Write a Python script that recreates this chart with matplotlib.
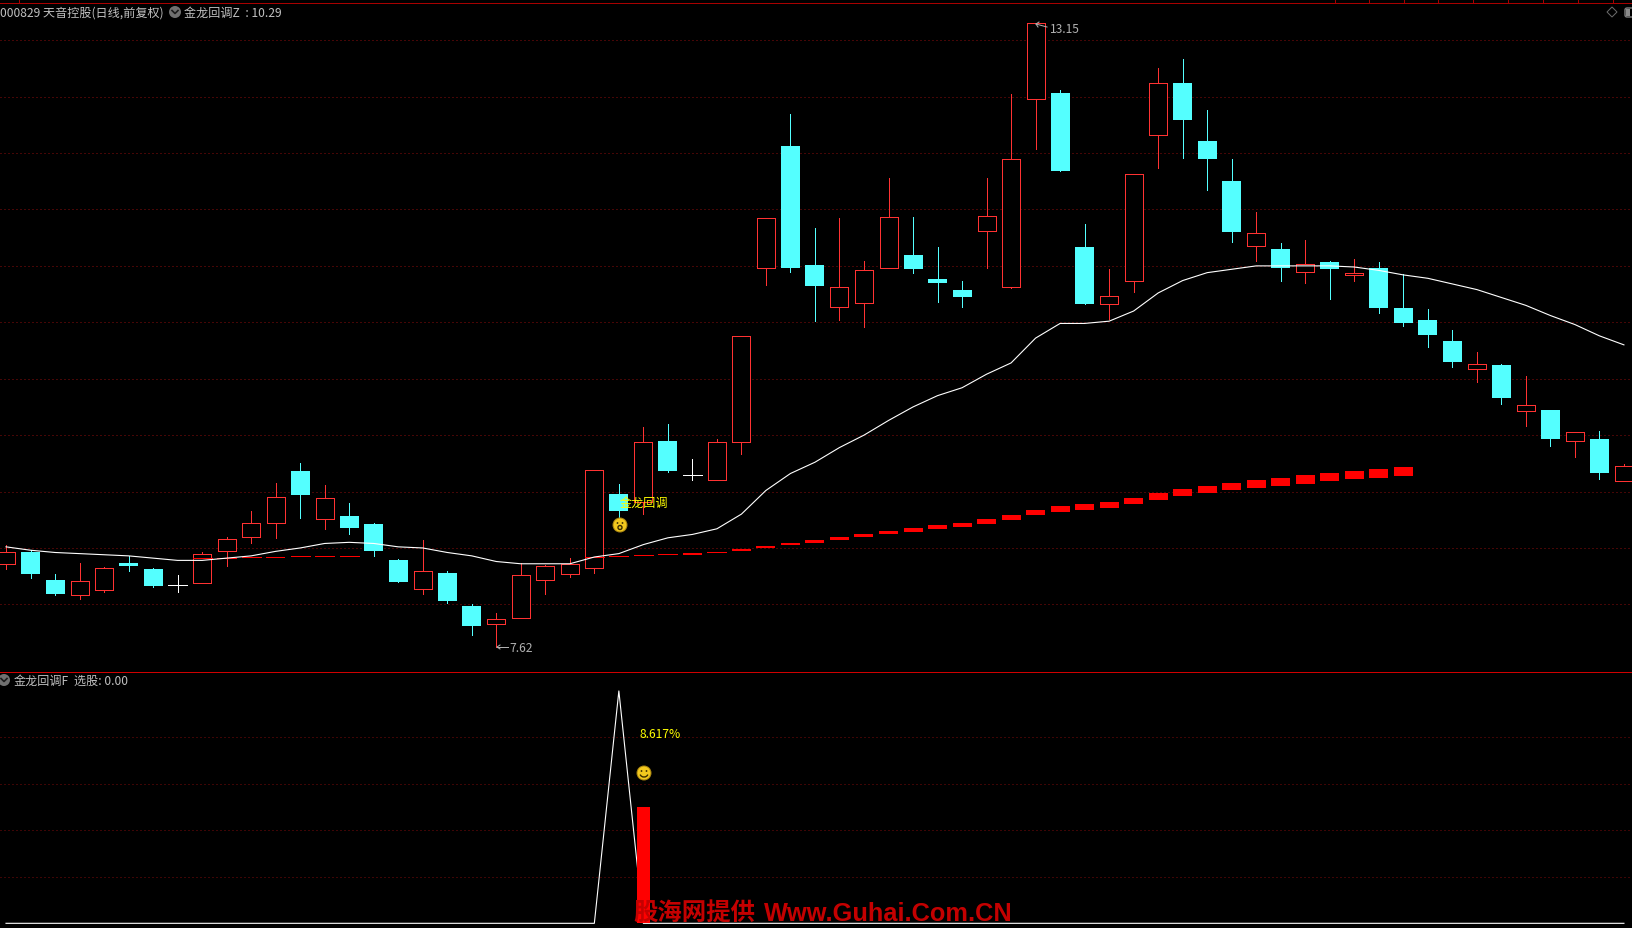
import matplotlib
matplotlib.use("Agg")
import matplotlib.pyplot as plt
from matplotlib.patches import Circle, Arc, Rectangle, Polygon, FancyBboxPatch
import numpy as np

plt.rcParams['font.family'] = ['Noto Sans CJK SC', 'DejaVu Sans']

W, H = 1633, 929

# K line
opens = [8.36,8.46,8.22,8.08,8.13,8.37,8.31,8.17,8.19,8.47,8.60,8.72,9.18,8.76,8.78,8.71,8.39,8.14,8.28,7.99,7.83,7.88,8.22,
         8.27,8.32,8.98,8.91,9.45,9.15,9.10,9.44,10.98,12.06,11.01,10.64,10.67,10.98,11.10,10.88,10.79,11.31,10.81,12.48,
         12.53,11.17,10.66,10.87,12.16,12.62,12.11,11.75,11.18,11.15,10.95,11.03,10.92,10.98,10.63,10.52,10.33,10.09,10.12,
         9.71,9.72,9.45,9.47,9.09]
closes = [8.46,8.27,8.09,8.21,8.32,8.34,8.16,8.17,8.45,8.58,8.72,8.95,8.97,8.94,8.68,8.47,8.20,8.30,8.03,7.81,7.87,8.26,8.34,
          8.36,9.19,8.83,9.44,9.18,9.15,9.44,10.38,11.42,10.98,10.82,10.81,10.96,11.43,10.97,10.85,10.72,11.44,11.95,13.15,
          11.84,10.66,10.73,11.81,12.62,12.29,11.95,11.30,11.29,10.98,11.02,10.97,10.94,10.63,10.49,10.39,10.15,10.13,9.83,
          9.77,9.47,9.53,9.16,9.23]
highs = [8.53,8.48,8.27,8.37,8.33,8.43,8.32,8.26,8.46,8.60,8.83,9.08,9.25,9.06,8.90,8.72,8.40,8.57,8.30,8.00,7.92,8.37,8.35,
         8.41,9.19,9.07,9.57,9.60,9.29,9.47,10.38,11.42,12.35,11.34,11.42,11.04,11.78,11.43,11.17,10.87,11.78,12.52,13.15,
         12.56,11.37,10.97,11.81,12.75,12.83,12.38,11.95,11.48,11.20,11.23,11.04,11.06,11.03,10.93,10.62,10.43,10.24,10.13,
         10.02,9.72,9.53,9.54,9.24]
lows = [8.31,8.23,8.08,8.05,8.11,8.30,8.15,8.11,8.19,8.34,8.54,8.59,8.77,8.67,8.62,8.43,8.20,8.09,8.01,7.73,7.62,7.88,8.09,
        8.24,8.28,8.77,8.80,9.17,9.10,9.10,9.33,10.83,10.95,10.51,10.52,10.46,10.98,10.94,10.68,10.64,10.98,10.80,12.04,
        11.84,10.66,10.53,10.77,11.87,11.96,11.67,11.21,11.04,10.87,10.85,10.71,10.87,10.58,10.47,10.28,10.10,9.97,9.78,
        9.58,9.40,9.31,9.11,9.09]

# white average line
ma_line = [8.51,8.48,8.46,8.45,8.44,8.43,8.41,8.39,8.39,8.41,8.43,8.47,8.50,8.54,8.55,8.54,8.51,8.50,8.46,8.43,8.38,8.36,8.36,
           8.36,8.42,8.45,8.53,8.59,8.62,8.67,8.80,9.01,9.16,9.26,9.39,9.50,9.63,9.75,9.85,9.92,10.04,10.14,10.36,
           10.49,10.49,10.51,10.60,10.76,10.87,10.94,10.97,11.00,11.00,11.00,11.00,10.99,10.96,10.92,10.89,10.84,10.79,10.72,
           10.65,10.56,10.48,10.38,10.30]

# red band (index, top, bottom)
band_idx = [8,9,10,11,12,13,14,
            24,25,26,27,28,29,30,31,32,33,34,35,36,37,38,39,40,41,42,43,44,45,46,47,48,49,50,51,52,53,54,55,56,57]
band_top = [8.411,8.408,8.417,8.424,8.426,8.432,8.432,
            8.417,8.426,8.435,8.444,8.456,8.462,8.491,8.517,8.544,8.571,8.597,8.624,8.650,8.677,8.704,8.721,8.757,8.792,
            8.837,8.872,8.890,8.907,8.943,8.987,9.023,9.049,9.076,9.102,9.120,9.147,9.164,9.182,9.200,9.218]
band_bot = [8.411,8.408,8.417,8.407,8.426,8.432,8.432,
            8.417,8.426,8.435,8.444,8.438,8.462,8.473,8.500,8.526,8.544,8.571,8.597,8.624,8.642,8.668,8.686,8.713,8.748,
            8.792,8.819,8.837,8.854,8.890,8.925,8.961,8.987,9.014,9.031,9.049,9.067,9.094,9.111,9.120,9.138]

price_grid = [8.0,8.5,9.0,9.5,10.0,10.5,11.0,11.5,12.0,12.5,13.0]

# lower panel
xg_line = [0]*25 + [20] + [0]*41
xg_bar_idx = [26]
xg_bar = [10]
xg_grid = [4,8,12,16]

top_ticks = [19,1335,1369,1404,1438,1473,1508,1543,1578,1613]

RED = '#ff3232'
CYAN = '#54ffff'
GRID = '#8c0c0c'
GRAY = '#c0c0c0'
PX = 0.72
DOTS = (0,(1,3))

fig = plt.figure(figsize=(W/100, H/100), dpi=100, facecolor='black')
split = (H-672.3)/H
ax1 = fig.add_axes([0, split, 1, (672.3-3.3)/H], facecolor='black')
ax2 = fig.add_axes([0, 0, 1, split], facecolor='black')
for a in (ax1, ax2):
    a.set_xlim(-0.245, 66.37)
    a.set_xticks([])
    a.set_yticks([])
    for s in a.spines.values():
        s.set_visible(False)
ax1.set_ylim(7.407, 13.336)
ax2.set_ylim(-0.404, 21.69)

for g in price_grid:
    ax1.axhline(g, color=GRID, lw=PX, linestyle=DOTS, dash_capstyle='butt', zorder=1)
for g in xg_grid:
    ax2.axhline(g, color='#7c0a0a', lw=PX, linestyle=DOTS, dash_capstyle='butt', zorder=1)

bw = 0.775
for i in range(len(opens)):
    o, c, h, l = opens[i], closes[i], highs[i], lows[i]
    if c == o:
        ax1.vlines(i, l, h, color='white', lw=PX, antialiased=False, zorder=2)
        ax1.hlines(c, i-bw/2, i+bw/2, color='white', lw=PX, antialiased=False, zorder=2)
    elif c > o:
        ax1.vlines(i, l, h, color=RED, lw=PX, antialiased=False, zorder=2)
        ax1.bar(i, c-o, bottom=o, width=bw-0.04, facecolor='black', edgecolor=RED, lw=PX, antialiased=False, zorder=3)
    else:
        ax1.vlines(i, l, h, color=CYAN, lw=PX, antialiased=False, zorder=2)
        ax1.bar(i, o-c, bottom=c, width=bw, color=CYAN, lw=0, antialiased=False, zorder=3)

for i, t, b in zip(band_idx, band_top, band_bot):
    if t == b:
        ax1.hlines(t, i-bw/2, i+bw/2, color='#ff0000', lw=PX, antialiased=False, zorder=4)
    else:
        ax1.bar(i, t-b, bottom=b, width=bw, color='#ff0000', lw=0, antialiased=False, zorder=4)

ax1.plot(range(len(ma_line)), ma_line, color='white', lw=0.8, zorder=5)

ax2.plot(range(len(xg_line)), xg_line, color='white', lw=0.8, zorder=2)
ax2.bar(xg_bar_idx, xg_bar, width=0.53, color='#ff0000', lw=0, antialiased=False, zorder=3)

# overlay in pixels for labels and icons
ov = fig.add_axes([0, 0, 1, 1], facecolor='none', zorder=10)
ov.set_xlim(0, W)
ov.set_ylim(H, 0)
ov.axis('off')

ov.plot([0, W], [3.5, 3.5], color='#a80000', lw=PX, antialiased=False)
ov.plot([0, W], [672.5, 672.5], color='#d00000', lw=PX, antialiased=False)
for x in top_ticks:
    ov.plot([x, x], [0, 3.5], color='#a80000', lw=PX, antialiased=False)


def label(x, y, s, color=GRAY, size=8.7, **kw):
    ov.text(x, y, s, color=color, fontsize=size, va='center', ha='left', **kw)


def drop_icon(x, y):
    ov.add_patch(Circle((x, y), 6, color='#707070', lw=0))
    ov.plot([x-3, x, x+3], [y-1.5, y+1.5, y-1.5], color='#1c1c1c', lw=1.2)


def smiley(x, y, sad=False):
    ov.add_patch(Circle((x, y), 7, facecolor='#f2c81e', edgecolor='#a88410', lw=0.7))
    ov.add_patch(Circle((x-2.5, y-2), 0.9, color='#3a2c00', lw=0))
    ov.add_patch(Circle((x+2.5, y-2), 0.9, color='#3a2c00', lw=0))
    if sad:
        ov.add_patch(Circle((x, y+2.5), 2, facecolor='none', edgecolor='#3a2c00', lw=1))
    else:
        ov.add_patch(Arc((x, y+0.5), 8, 7, theta1=15, theta2=165, color='#3a2c00', lw=1))


label(0, 13, '000829 天音控股(日线,前复权)')
drop_icon(175, 13)
label(184.5, 13, '金龙回调Z  : 10.29')
drop_icon(4, 681)
label(13.5, 681, '金龙回调F')
label(74, 681, '选股: 0.00')

label(509, 649, '7.62', color='#b0b0b0')
ov.plot([497, 508], [648, 648], color='#b0b0b0', lw=PX)
ov.plot([500, 497, 500], [646, 648, 650], color='#b0b0b0', lw=PX)
label(1050, 29, '13.15', color='#b0b0b0')
ov.plot([1036, 1047], [25, 28], color='#b0b0b0', lw=PX)
ov.plot([1039, 1036, 1038], [23, 25, 28], color='#b0b0b0', lw=PX)

label(619.5, 503, '金龙回调', color='#ffff00', size=8.7)
smiley(620, 526, sad=True)
label(640, 734, '8.617%', color='#ffff00')
smiley(644, 774)

ov.add_patch(Polygon([(1612, 8), (1617, 13), (1612, 18), (1607, 13)], closed=True, facecolor='none', edgecolor='#6a6a6a', lw=PX))
ov.add_patch(FancyBboxPatch((1625, 9), 12, 9, boxstyle='round,pad=0,rounding_size=2', facecolor='none', edgecolor='#808080', lw=1))
ov.add_patch(Rectangle((1626.5, 10), 3.5, 7, color='#8a8a8a', lw=0))

# watermark
ov.text(633, 914, '股海网提供', color='#c40000', fontsize=17.6, fontweight='bold', va='center', ha='left')
ov.text(764, 914, 'Www.Guhai.Com.CN', color='#c40000', fontsize=18.3, fontweight='bold', va='center', ha='left',
        family='Liberation Sans')

fig.savefig('out.png', dpi=100, facecolor='black')
